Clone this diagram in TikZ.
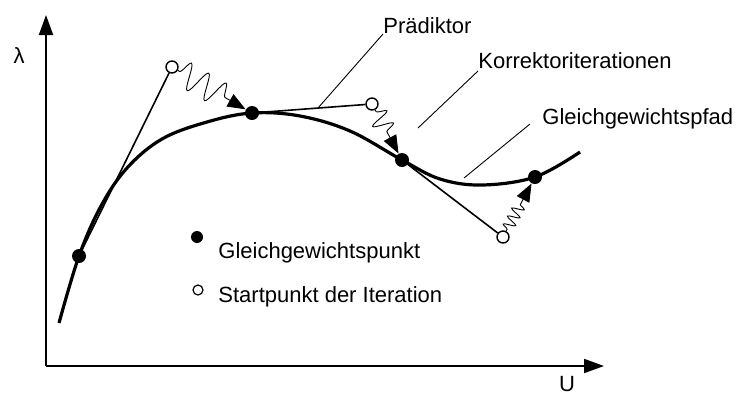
\documentclass[tikz,border=0pt]{standalone}
\usepackage{fontspec}
\setmainfont{Liberation Sans}
\usetikzlibrary{arrows.meta,positioning,decorations.pathmorphing}

\begin{document}
\begin{tikzpicture}[x=0.5pt,y=-0.5pt,
    every node/.style={font=\fontsize{11}{13}\selectfont},
    axis/.style={line width=1pt,-{Triangle[length=10pt,width=7pt]}},
    pfad/.style={line width=1.6pt,line join=round},
    praediktor/.style={line width=0.8pt},
    leader/.style={line width=0.45pt},
    gpunkt/.style={circle,fill=black,inner sep=0pt,minimum size=7pt},
    spunkt/.style={circle,draw,fill=white,line width=0.7pt,inner sep=0pt,minimum size=6pt},
    lbl/.style={inner sep=0pt},
    feder/.style 2 args={line width=0.45pt,-{Triangle[length=9pt,width=7pt]},decorate,
        decoration={snake,segment length=#1,amplitude=#2,pre length=1pt,post length=10pt}}
]
\useasboundingbox (0,0) rectangle (737,397);

% Axes
\coordinate (origin) at (46,366);
\coordinate (ytip) at (46,15);
\coordinate (xtip) at (604,366);
\draw[axis] (origin) -- (ytip);
\draw[axis] (origin) -- (xtip);
\node[lbl] (lambda) at (19,56) {λ};
\node[lbl] (u) at (567,384) {U};

% Equilibrium path
\draw[pfad] plot[smooth,tension=0.6] coordinates {(59,323) (79,256) (101,206) (127,168) (162,139) (207,122) (252,113) (300,116) (350,131) (402,160) (440,179) (482,185) (535,177) (580,152)};

% Points
\node[gpunkt] (g1) at (79,256) {};
\node[gpunkt] (g2) at (252,113) {};
\node[gpunkt] (g3) at (402,160) {};
\node[gpunkt] (g4) at (535,177) {};
\node[spunkt] (s1) at (172,67) {};
\node[spunkt] (s2) at (372,104) {};
\node[spunkt] (s3) at (503,237) {};

% Predictor steps
\draw[praediktor] (g1) -- (s1);
\draw[praediktor] (g2) -- (s2);
\draw[praediktor] (g3) -- (s3);

% Corrector iterations
\draw[feder={10pt}{6.5pt}] (s1) -- (g2);
\draw[feder={7pt}{5pt}] (s2) -- (g3);
\draw[feder={4.5pt}{3pt}] (s3) -- (g4);

% Labels
\node[lbl,anchor=base west] (praed) at (383,33) {Prädiktor};
\node[lbl,anchor=base west] (korr) at (478,68) {Korrektoriterationen};
\node[lbl,anchor=base west] (gpfad) at (542,124) {Gleichgewichtspfad};
\coordinate (pl) at (318,108);
\coordinate (kl) at (418,128);
\coordinate (gl) at (464,178);
\draw[leader] (383,34) -- (pl);
\draw[leader] (478,71) -- (kl);
\draw[leader] (530,124) -- (gl);

% Legend
\node[gpunkt,minimum size=6pt] (lg) at (197,237) {};
\node[spunkt,minimum size=5pt,line width=0.6pt] (ls) at (198,290) {};
\node[lbl,anchor=base west] (lgtext) at (218,258) {Gleichgewichtspunkt};
\node[lbl,anchor=base west] (lstext) at (218,302) {Startpunkt der Iteration};

\end{tikzpicture}
\end{document}
